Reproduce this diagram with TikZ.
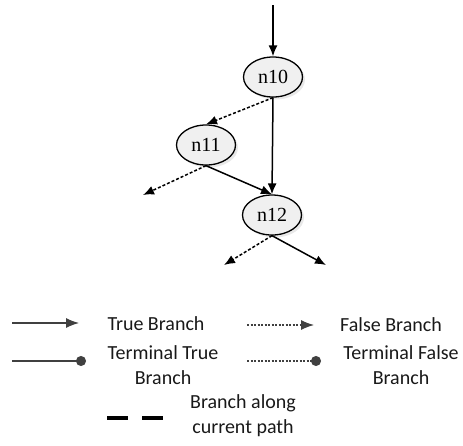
\documentclass[tikz,border=0pt]{standalone}
\usepackage{fontspec}
\setmainfont{Carlito}
\newfontfamily\nodefont{Liberation Serif}
\usetikzlibrary{arrows.meta,shadows,shapes.geometric}

\begin{document}
\begin{tikzpicture}[>={Latex[length=11pt,width=9pt]}, x=1pt, y=-1pt]
    \tikzstyle{block}=[ellipse, draw=black, line width=1.3pt, fill=gray!12,
      minimum width=59pt, minimum height=40pt, inner sep=0pt,
      font=\nodefont\fontsize{20}{20}\selectfont,
      drop shadow={shadow xshift=2.5pt, shadow yshift=-2.5pt, fill=gray!35}]
    \tikzstyle{tbranch}=[->, line width=1.5pt, black]
    \tikzstyle{fbranch}=[->, line width=1.5pt, black, dash pattern=on 3pt off 2pt]
    \tikzstyle{legend}=[draw=black!75, line width=1.1pt]
    \tikzstyle{caption}=[align=center, text=black!90,
      font=\fontsize{20}{25}\selectfont, inner sep=0pt]
    \useasboundingbox (0,0) rectangle (463,445);
    % graph
    \coordinate (start) at (273,5);
    \node[block] (n10) at (273,77) {n10};
    \node[block] (n11) at (206,145) {n11};
    \node[block] (n12) at (272,215) {n12};
    \coordinate (out11) at (143,195);
    \coordinate (outF) at (224,265);
    \coordinate (outT) at (326,265);
    \draw[tbranch] (start) -- (n10.north);
    \draw[fbranch] (n10.south) -- (n11.north);
    \draw[tbranch] (n10.south) -- (n12.north);
    \draw[tbranch] (n11.south) -- (n12.north);
    \draw[fbranch] (n11.south) -- (out11);
    \draw[fbranch] (n12.south) -- (outF);
    \draw[tbranch] (n12.south) -- (outT);
    % legend
    \coordinate (tA) at (12,323);  \coordinate (tB) at (79,323);
    \coordinate (fA) at (247,325); \coordinate (fB) at (314,325);
    \coordinate (ttA) at (12,361); \coordinate (ttB) at (86,361);
    \coordinate (tfA) at (247,361); \coordinate (tfB) at (321,361);
    \draw[legend, -{Latex[length=13pt,width=10pt]}] (tA) -- (tB);
    \draw[legend, dash pattern=on 2pt off 1.5pt, -{Latex[length=13pt,width=10pt]}] (fA) -- (fB);
    \draw[legend, -{Circle[length=10pt]}] (ttA) -- (ttB);
    \draw[legend, dash pattern=on 2pt off 1.5pt, -{Circle[length=10pt]}] (tfA) -- (tfB);
    \draw[line width=3.5pt, dash pattern=on 21pt off 14pt] (107,418) -- (163,418);
    \node[caption, anchor=base] (lt) at (156,330) {True Branch};
    \node[caption, anchor=base] (lf) at (391,331) {False Branch};
    \node[caption, anchor=north] (ltt) at (163,345) {Terminal True\\Branch};
    \node[caption, anchor=north] (ltf) at (401,345) {Terminal False\\Branch};
    \node[caption, anchor=north] (lc) at (243,394) {Branch along\\current path};
\end{tikzpicture}
\end{document}
